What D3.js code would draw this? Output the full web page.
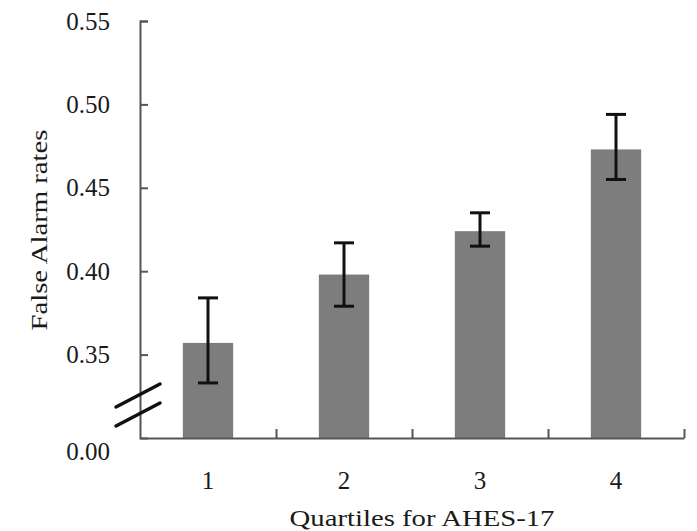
<!DOCTYPE html>
<html>
<head>
<meta charset="utf-8">
<script src="https://cdn.jsdelivr.net/npm/d3@7"></script>
<style>
  html, body { margin: 0; padding: 0; background: #fff; }
  svg { display: block; }
  text { font-family: "Liberation Serif", "DejaVu Serif", serif; fill: #1a1a1a; }
</style>
</head>
<body>
<svg id="chart" width="697" height="531"></svg>
<script>
// Mean false alarm rate per AHES-17 quartile, with error bar bounds
const quartiles = ["1", "2", "3", "4"];
const falseAlarm = [0.357, 0.398, 0.424, 0.473];
const errLow = [0.333, 0.379, 0.415, 0.455];
const errHigh = [0.384, 0.417, 0.435, 0.494];
const yTicks = [0.30, 0.35, 0.40, 0.45, 0.50, 0.55];
const yTickLabels = ["0.00", "0.35", "0.40", "0.45", "0.50", "0.55"];

const svg = d3.select("#chart");
const plotLeft = 140, plotRight = 684, plotTop = 21, plotBottom = 438;
const axisColor = "#555";

const x = d3.scaleBand().domain(quartiles).range([plotLeft, plotRight])
  .paddingInner(0.63).paddingOuter(0.315);
const xEdges = d3.scaleLinear().domain([0, quartiles.length]).range([plotLeft, plotRight]);
const y = d3.scaleLinear().domain([0.30, 0.55]).range([plotBottom, plotTop]);

// bars
svg.append("g").selectAll("rect").data(quartiles).join("rect")
  .attr("x", d => x(d))
  .attr("width", x.bandwidth())
  .attr("y", (d, i) => y(falseAlarm[i]))
  .attr("height", (d, i) => y(0.30) - y(falseAlarm[i]))
  .attr("fill", "#7d7d7d");

// error bars
const eb = svg.append("g").attr("stroke", "#111").attr("stroke-width", 3);
quartiles.forEach((d, i) => {
  const cx = x(d) + x.bandwidth() / 2;
  eb.append("line").attr("x1", cx).attr("x2", cx).attr("y1", y(errLow[i])).attr("y2", y(errHigh[i]));
  [errLow[i], errHigh[i]].forEach(v => {
    eb.append("line").attr("x1", cx - 10).attr("x2", cx + 10).attr("y1", y(v)).attr("y2", y(v));
  });
});

// y axis
const yAxis = svg.append("g").attr("transform", `translate(${plotLeft},0)`)
  .call(d3.axisLeft(y).tickValues(yTicks)
    .tickFormat((d, i) => yTickLabels[i])
    .tickSize(-8).tickSizeOuter(-8).tickPadding(30));
yAxis.select(".domain").attr("stroke", axisColor).attr("stroke-width", 2);
yAxis.selectAll(".tick line").attr("stroke", axisColor).attr("stroke-width", 2);
yAxis.selectAll(".tick line").filter(d => d === 0.30).remove();
yAxis.selectAll(".tick text")
  .style("font-size", "25px")
  .attr("fill", "#1a1a1a")
  .attr("dy", d => d === 0.30 ? "0.84em" : "0.32em");

// x axis line with boundary ticks
const xAxis = svg.append("g").attr("transform", `translate(0,${plotBottom})`)
  .call(d3.axisBottom(xEdges).tickValues([1, 2, 3, 4]).tickFormat("")
    .tickSize(-9).tickSizeOuter(0));
xAxis.select(".domain").attr("stroke", axisColor).attr("stroke-width", 2);
xAxis.selectAll(".tick line").attr("stroke", axisColor).attr("stroke-width", 2);

// category labels
const xLabels = svg.append("g").attr("transform", `translate(0,${plotBottom})`)
  .call(d3.axisBottom(x).tickSize(0).tickPadding(33));
xLabels.select(".domain").remove();
xLabels.selectAll(".tick text").style("font-size", "25px").attr("fill", "#1a1a1a");

// axis break marks
const brk = svg.append("g").attr("stroke", "#111").attr("stroke-width", 3.5).attr("stroke-linecap", "round");
[395, 414].forEach(cy => {
  brk.append("line").attr("x1", plotLeft - 24).attr("y1", cy + 12).attr("x2", plotLeft + 20).attr("y2", cy - 11);
});

// axis titles
svg.append("text")
  .attr("transform", `translate(${(plotLeft + plotRight) / 2 + 10},526) scale(1.25,1)`)
  .attr("text-anchor", "middle")
  .style("font-size", "23px")
  .text("Quartiles for AHES-17");

svg.append("text")
  .attr("transform", "translate(47,230) rotate(-90) scale(1.25,1)")
  .attr("text-anchor", "middle")
  .style("font-size", "23px")
  .text("False Alarm rates");
</script>
</body>
</html>
